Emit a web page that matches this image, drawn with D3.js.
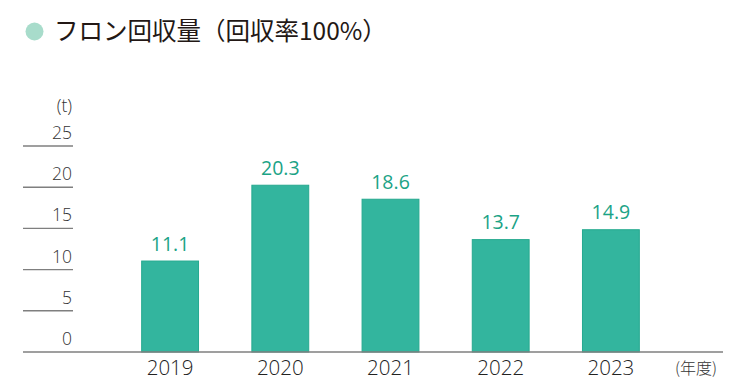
<!DOCTYPE html>
<html><head><meta charset="utf-8">
<script src="https://cdn.jsdelivr.net/npm/d3@7"></script>
<style>body{margin:0;background:#fff}svg{display:block}</style>
</head><body>
<svg id="c" width="750" height="390"></svg>
<script>
const years = ["2019","2020","2021","2022","2023"];
const values = [11.1, 20.3, 18.6, 13.7, 14.9];
const yTicks = [0,5,10,15,20,25];
const titleText = "フロン回収量（回収率100%）";
const unitLabel = "(t)";
const xUnitLabel = "(年度)";

const svg = d3.select("#c");
const y = d3.scaleLinear().domain([0,25]).range([352,146]);
const x = d3.scaleBand().domain(years).range([115,666]).paddingInner(0.475).paddingOuter(0.2375);

const font = "'Open Sans', 'Noto Sans CJK JP', sans-serif";

// title
svg.append("circle").attr("cx",34.5).attr("cy",31.5).attr("r",9).attr("fill","#a8dccb");
svg.append("text").attr("x",54).attr("y",40).attr("font-family","'Noto Sans CJK JP', sans-serif")
  .attr("font-size",24.5).attr("fill","#231815").text(titleText);

// y grid stubs + labels
const g = svg.append("g");
g.selectAll("line.t").data(yTicks.filter(d=>d>0)).join("line")
  .attr("x1",23).attr("x2",73).attr("y1",d=>y(d)).attr("y2",d=>y(d))
  .attr("stroke","#7f7f7f").attr("stroke-width",1.4);
g.selectAll("text.t").data(yTicks).join("text")
  .attr("x",72).attr("y",d=>y(d)-7).attr("text-anchor","end")
  .attr("font-family",font).attr("font-weight",300).attr("font-size",17.5).attr("fill","#333").text(d=>d);
svg.append("text").attr("x",72).attr("y",112).attr("text-anchor","end")
  .attr("font-family",font).attr("font-weight",300).attr("font-size",17.5).attr("fill","#333").text(unitLabel);

// bars
svg.selectAll("rect.b").data(values).join("rect")
  .attr("x",(d,i)=>x(years[i])+0.5).attr("width",x.bandwidth()-1)
  .attr("y",d=>y(d)+0.5).attr("height",d=>y(0)-y(d)-0.5)
  .attr("fill","#33b59e").attr("stroke","#25a98f").attr("stroke-width",1);

// value labels
svg.selectAll("text.v").data(values).join("text")
  .attr("x",(d,i)=>x(years[i])+x.bandwidth()/2).attr("y",d=>y(d)-10)
  .attr("text-anchor","middle").attr("font-family",font).attr("font-size",19.5)
  .attr("fill","#1ba386").text(d=>d.toFixed(1));

// baseline
svg.append("line").attr("x1",23).attr("x2",723).attr("y1",y(0)).attr("y2",y(0))
  .attr("stroke","#7f7f7f").attr("stroke-width",1.4);

// x labels
svg.selectAll("text.x").data(years).join("text")
  .attr("x",d=>x(d)+x.bandwidth()/2).attr("y",375)
  .attr("text-anchor","middle").attr("font-family",font).attr("font-weight",300).attr("font-size",20.5)
  .attr("fill","#222").text(d=>d);
svg.append("text").attr("x",696).attr("y",374).attr("text-anchor","middle")
  .attr("font-family","'Noto Sans CJK JP', sans-serif").attr("font-weight",300).attr("font-size",16)
  .attr("fill","#333").text(xUnitLabel);
</script>
</body></html>
